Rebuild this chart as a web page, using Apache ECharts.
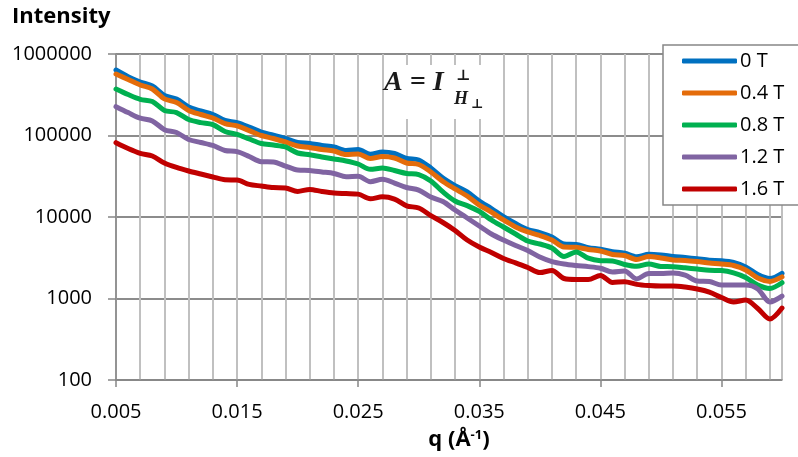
<!DOCTYPE html>
<html><head><meta charset="utf-8">
<script src="https://cdn.jsdelivr.net/npm/echarts@6/dist/echarts.min.js"></script>
<style>html,body{margin:0;padding:0;background:#fff}#c{width:798px;height:457px}</style>
</head><body><div id="c"></div><script>
// q values (Å^-1)
const q = [0.005,0.006,0.007,0.008,0.009,0.010,0.011,0.012,0.013,0.014,0.015,0.016,0.017,0.018,0.019,0.020,0.021,0.022,0.023,0.024,0.025,0.026,0.027,0.028,0.029,0.030,0.031,0.032,0.033,0.034,0.035,0.036,0.037,0.038,0.039,0.040,0.041,0.042,0.043,0.044,0.045,0.046,0.047,0.048,0.049,0.050,0.051,0.052,0.053,0.054,0.055,0.056,0.057,0.058,0.059,0.060];
const seriesNames = ['0 T','0.4 T','0.8 T','1.2 T','1.6 T'];
const s0T  = [636000,527000,453000,405000,310000,280000,224000,200000,181000,153000,144000,127000,110000,101000,92000,82000,80000,75400,72300,65500,67300,58800,62700,60100,52200,50000,39900,30100,24300,20300,15700,12700,10100,8320,7020,6450,5680,4660,4600,4200,4020,3750,3600,3250,3490,3420,3280,3180,3070,2950,2910,2770,2440,1970,1760,2040];
const s04T = [568000,487000,417000,372000,281000,254000,203000,181000,164000,140000,131000,115000,100000,91900,83200,74300,71300,67300,64500,58500,59300,52200,55200,53000,46000,44100,35700,27300,22100,18100,14000,11500,9190,7540,6550,5930,5220,4280,4250,3990,3830,3470,3370,3010,3280,3140,2970,2930,2840,2730,2650,2540,2240,1780,1620,1840];
const s08T = [372000,318000,278000,261000,203000,191000,157000,144000,136000,112000,103000,90600,79800,76400,72300,61000,58000,54500,51500,48700,44700,38500,39900,37200,34200,33200,27700,20300,15700,13800,11700,9190,7540,6190,5080,4660,4170,3280,3720,3120,2910,2890,2610,2480,2650,2470,2460,2380,2300,2220,2200,2060,1810,1460,1330,1560];
const s12T = [226000,191000,163000,151000,118000,109000,89300,82100,75400,65500,63300,55200,47700,47300,42200,37700,37200,35700,34200,31200,31600,27100,29000,26100,23000,21400,17600,15500,12200,9720,7750,6190,5220,4470,3880,3230,2840,2650,2540,2460,2350,2120,2180,1740,2030,2030,2060,1940,1640,1620,1460,1460,1460,1310,906,1070];
const s16T = [81600,69300,60500,56000,46000,40500,36700,33700,31000,28600,28400,25100,24000,23000,22700,20600,21800,20600,19700,19400,19100,16700,17700,16600,13700,12900,10400,8560,6830,5220,4280,3670,3100,2730,2400,2080,2210,1760,1710,1710,1920,1570,1610,1490,1440,1420,1420,1380,1310,1200,1030,906,958,754,560,764];
const xTickLabels = [0.005,0.015,0.025,0.035,0.045,0.055];
const yTickLabels = [100,1000,10000,100000,1000000];

const seriesValues = [s0T,s04T,s08T,s12T,s16T];
const colors = ['#0070C0','#E46C0A','#00B050','#8064A2','#C00000'];
const FONT = '"Open Sans", "Liberation Sans", sans-serif';

const chart = echarts.init(document.getElementById('c'), null, {renderer:'canvas'});
const option = {
  animation: false,
  backgroundColor: '#fff',
  grid: {left:116, right:16, top:54, bottom:77},
  legend: {
    orient: 'vertical', left: 663, top: 45,
    padding: [6,16,6,19], itemGap: 12, itemWidth: 55, itemHeight: 5,
    icon: 'roundRect',
    borderColor: '#878787', borderWidth: 1.5, backgroundColor: '#fff',
    textStyle: {fontFamily: FONT, fontSize: 20, color: '#000', lineHeight: 20, padding:[0,0,0,-2]},
    data: seriesNames
  },
  xAxis: [
    {type:'value', min:0.005, max:0.06, interval:0.01,
     axisLine:{show:true, onZero:false, lineStyle:{color:'#868686', width:1.5}},
     axisTick:{show:true, customValues: xTickLabels, length:7, lineStyle:{color:'#868686', width:1.5}},
     axisLabel:{customValues: xTickLabels, formatter: v => Number(v).toFixed(3), margin:22, fontSize:20, color:'#000', fontFamily:FONT},
     splitLine:{show:false}},
    {type:'value', min:0.005, max:0.06, interval:0.002, position:'top',
     axisLine:{show:false}, axisTick:{show:false}, axisLabel:{show:false},
     splitLine:{show:true, lineStyle:{color:'#C0C0C0', width:2}}}
  ],
  yAxis: {type:'log', logBase:10, min:100, max:1000000,
    axisLine:{show:true, lineStyle:{color:'#868686', width:1.5}},
    axisTick:{show:true, length:8, lineStyle:{color:'#868686', width:1.5}},
    axisLabel:{formatter: v => String(Math.round(v)), margin:24, fontSize:20, color:'#000', fontFamily:FONT},
    splitLine:{show:true, lineStyle:{color:'#8C8C8C', width:2}}
  },
  series: seriesNames.map((n,i) => ({
    name: n, type:'line', xAxisIndex:0, showSymbol:false, symbol:'none', smooth:0.3,
    lineStyle:{color:colors[i], width:5, cap:'round', join:'round'},
    itemStyle:{color:colors[i]},
    data: q.map((x,j) => [x, seriesValues[i][j]])
  })),
  graphic: [
    {type:'text', left:12, top:6, style:{text:'Intensity', font:'bold 22px "Open Sans", sans-serif', fill:'#000'}},
    {type:'text', x:459, y:440, style:{
      text:'{b|q (Å}{s|-1}{b|)}', align:'center', verticalAlign:'middle',
      rich:{b:{fontSize:22, fontWeight:'bold', fontFamily:FONT, fill:'#000'}, s:{fontSize:13, fontWeight:'bold', fontFamily:FONT, fill:'#000', verticalAlign:'top', padding:[0,0,10,0]}}}},
    {type:'rect', shape:{x:386, y:65, width:114, height:54}, style:{fill:'#fff'}, z:5},
    {type:'text', x:384, y:83, z:6, style:{text:'A = I', font:'bold italic 28px "Liberation Serif", serif', fill:'#1a1a1a', verticalAlign:'middle'}},
    {type:'text', x:456, y:76, z:6, style:{text:'⊥', font:'bold 15px "DejaVu Serif", serif', fill:'#1a1a1a', verticalAlign:'middle'}},
    {type:'text', x:454, y:99, z:6, style:{text:'H', font:'bold italic 18px "Liberation Serif", serif', fill:'#1a1a1a', verticalAlign:'middle'}},
    {type:'text', x:471, y:105, z:6, style:{text:'⊥', font:'bold 13px "DejaVu Serif", serif', fill:'#1a1a1a', verticalAlign:'middle'}}
  ]
};
chart.setOption(option);
</script></body></html>
